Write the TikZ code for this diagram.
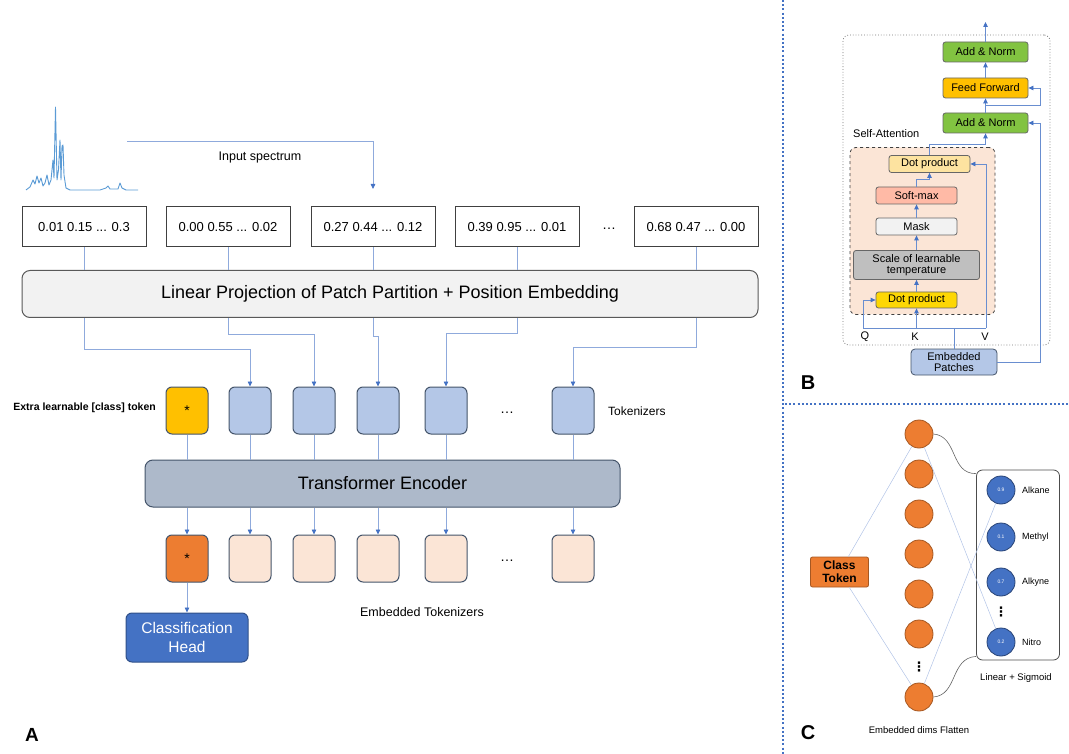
\documentclass[tikz,border=0pt]{standalone}
\usepackage{fontspec}
\setmainfont{Liberation Sans}
\newfontfamily\dotsfont{DejaVu Sans}
\usepackage{xcolor}
\usetikzlibrary{positioning, arrows.meta}

\definecolor{linkblue}{HTML}{8FAADC}
\definecolor{tipblue}{HTML}{4472C4}
\definecolor{tokblue}{HTML}{B4C7E7}
\definecolor{tokline}{HTML}{44546A}
\definecolor{clsyellow}{HTML}{FFC000}
\definecolor{clsorange}{HTML}{ED7D31}
\definecolor{embpeach}{HTML}{FBE5D6}
\definecolor{encgray}{HTML}{ADB9CA}
\definecolor{headblue}{HTML}{4472C4}
\definecolor{normgreen}{HTML}{82C341}
\definecolor{specblue}{HTML}{5B9BD5}

\newcommand{\fs}[1]{\fontsize{#1}{#1}\selectfont}

\begin{document}
\begin{tikzpicture}[
    x=1pt, y=-1pt,
    every node/.style={font=\fs{12}, inner sep=0pt},
    patch/.style={rectangle, draw=black!75, line width=1pt, minimum width=124pt, minimum height=40pt, fill=white, font=\fs{13}},
    token/.style={rectangle, draw=tokline, line width=1pt, rounded corners=6pt, minimum width=42pt, minimum height=47pt, fill=#1, font=\fs{14}},
    token/.default=tokblue,
    bar/.style={rectangle, draw=#1, line width=1pt, rounded corners=8pt, minimum height=47pt, font=\fs{18}},
    sub/.style={rectangle, draw=black!60, line width=0.8pt, rounded corners=2.5pt, minimum width=81pt, minimum height=17pt, fill=#1, font=\fs{11}, align=center},
    sub/.default=white,
    hid/.style={circle, draw=clsorange!70!black, line width=0.8pt, fill=clsorange, minimum size=28pt},
    outn/.style={circle, draw=tipblue!60!black, line width=0.8pt, fill=tipblue, minimum size=28pt, text=white, font=\fs{5}},
    lbl/.style={font=\fs{#1}},
    vdot/.style={font=\dotsfont\bfseries\fs{13}},
    link/.style={draw=linkblue, line width=0.8pt},
    arr/.style={link, -{Triangle[length=5pt, width=4.5pt, color=tipblue]}},
    barr/.style={arr, draw=tipblue!80},
    thinlink/.style={draw=linkblue!70, line width=0.5pt},
    curvelink/.style={draw=black!60, line width=0.6pt},
    divider/.style={draw=tipblue, line width=2pt, dash pattern=on 2pt off 2.2pt},
]
    \useasboundingbox (0,0) rectangle (1069,754);

    % ---------- panel A ----------
    % input spectrum
    \draw[specblue, line width=0.9pt, line join=round] plot coordinates {
        (26,190) (30,187) (33,180) (35,184) (37,176) (39,183) (41,178) (43,186)
        (45,183) (47,175) (49,185) (51,180) (53,160) (54,178) (55.5,107) (57,180)
        (58.5,170) (60,140) (61,180) (62,146) (63,145) (64,175) (66,188) (70,190)
        (100,190) (106,188) (108,186) (110,189) (118,189) (120,183) (122,188)
        (126,190) (138,190)};
    \coordinate (spec) at (127,141);
    \coordinate (inhit) at (373,189);
    \draw[arr] (spec) -| (inhit);
    \node[lbl=12.5] (inlbl) at (260,157) {Input spectrum};

    % patches
    \node[patch] (p1) at (84,227) {0.01 0.15 ... 0.3};
    \node[patch] (p2) at (228,227) {0.00 0.55 ... 0.02};
    \node[patch] (p3) at (373,227) {0.27 0.44 ... 0.12};
    \node[patch] (p4) at (517,227) {0.39 0.95 ... 0.01};
    \node[lbl=14] (pdots) at (609,229) {\dots};
    \node[patch] (p5) at (696,227) {0.68 0.47 ... 0.00};

    \node[bar=black!65, fill=black!5, minimum width=736pt] (proj) at (390,294) {Linear Projection of Patch Partition + Position Embedding};

    \foreach \p in {p1,p2,p3,p4,p5}
        \draw[link] (\p) -- (\p |- proj.north);

    % tokenizers
    \node[token=clsyellow] (tc) at (187,410.5) {*};
    \node[token] (t2) at (250,410.5) {};
    \node[token] (t3) at (314,410.5) {};
    \node[token] (t4) at (378,410.5) {};
    \node[token] (t5) at (446,410.5) {};
    \node[lbl=14] (tdots) at (507,413) {\dots};
    \node[token] (t6) at (573,410.5) {};
    \node[lbl=12, anchor=west] (toklbl) at (608,411) {Tokenizers};
    \node[font=\fs{10.5}\bfseries, anchor=east] (clslbl) at (156,408) {Extra learnable [class] token};

    \draw[arr] (p1 |- proj.south) -- ++(0,31) -| (t2.north);
    \draw[arr] (p2 |- proj.south) -- ++(0,16) -| (t3.north);
    \draw[arr] (p3 |- proj.south) -- ++(0,18) -| (t4.north);
    \draw[arr] (p4 |- proj.south) -- ++(0,15) -| (t5.north);
    \draw[arr] (p5 |- proj.south) -- ++(0,29) -| (t6.north);

    % encoder
    \node[bar=tokline, fill=encgray, minimum width=475pt] (enc) at (382.5,483.5) {Transformer Encoder};

    % embedded tokenizers
    \node[token=clsorange] (oc) at (187,558.5) {*};
    \node[token=embpeach] (o2) at (250,558.5) {};
    \node[token=embpeach] (o3) at (314,558.5) {};
    \node[token=embpeach] (o4) at (378,558.5) {};
    \node[token=embpeach] (o5) at (446,558.5) {};
    \node[lbl=14] (odots) at (507,561) {\dots};
    \node[token=embpeach] (o6) at (573,558.5) {};
    \node[lbl=12.5] (emblbl) at (422,612) {Embedded Tokenizers};

    \foreach \t/\o in {tc/oc,t2/o2,t3/o3,t4/o4,t5/o5,t6/o6} {
        \draw[link] (\t) -- (\t |- enc.north);
        \draw[arr] (\t |- enc.south) -- (\o);
    }

    \node[rectangle, draw=headblue!70!black, line width=1pt, rounded corners=6pt, fill=headblue, text=white,
        minimum width=122pt, minimum height=49pt, align=center, font=\fs{15.5}] (head) at (187,637.5) {Classification\\[3pt]Head};
    \draw[arr] (oc) -- (head);

    \node[font=\fs{19}\bfseries] (la) at (32,735) {A};

    % ---------- dividers ----------
    \draw[divider] (783,0) -- (783,754);
    \draw[divider] (785,404) -- (1069,404);
    \node[font=\fs{20}\bfseries] (lb) at (808,383) {B};
    \node[font=\fs{20}\bfseries] (lc) at (808,733) {C};

    % ---------- panel B ----------
    \node[rectangle, draw=black!55, dotted, line width=0.8pt, rounded corners=6pt, minimum width=207pt, minimum height=310pt] (block) at (946.5,190) {};
    \node[rectangle, draw=black!75, dashed, line width=0.8pt, rounded corners=6pt, fill=embpeach, minimum width=145pt, minimum height=167pt] (attn) at (922.5,231) {};
    \node[lbl=11, anchor=west] (attnlbl) at (853,134) {Self-Attention};

    \node[sub=normgreen, minimum width=85pt, minimum height=20pt] (addtop) at (985.5,52) {Add \& Norm};
    \node[sub=clsyellow, minimum width=85pt, minimum height=20pt] (ff) at (985.5,88) {Feed Forward};
    \node[sub=normgreen, minimum width=85pt, minimum height=20pt] (addmid) at (985.5,123) {Add \& Norm};

    \node[sub=yellow!45!orange!35] (dottop) at (929.5,164) {Dot product};
    \node[sub=orange!45!red!35!white] (soft) at (916.5,195.5) {Soft-max};
    \node[sub=black!5] (mask) at (916.5,226.5) {Mask};
    \node[sub=black!25, minimum width=126pt, minimum height=29pt] (scale) at (916.5,265) {Scale of learnable\\temperature};
    \node[sub=yellow!75!orange, minimum height=16pt] (dotbot) at (916.5,300) {Dot product};

    \node[sub=tokblue, draw=tokline, minimum width=86pt, minimum height=26pt, rounded corners=4pt] (patches) at (954,362) {Embedded\\Patches};

    \node[lbl=11] (ql) at (865,337) {Q};
    \node[lbl=11] (kl) at (915,337) {K};
    \node[lbl=11] (vl) at (985,337) {V};

    \coordinate (bout) at (985.5,22);
    \coordinate (qpt) at (863,328);
    \coordinate (vpt) at (986,328);

    \draw[barr] (addtop) -- (bout);
    \draw[barr] (ff) -- (addtop);
    \draw[barr] (addmid) -- (ff);
    \draw[barr] ([yshift=7pt]addmid.north) -- ++(54.5,0) |- (ff.east);
    \draw[barr] (patches.east) -- ++(43,0) |- (addmid.east);
    \draw[barr] (dottop.north) -- ++(0,-11) -| (addmid.south);
    \draw[barr] (soft.north) -- ++(0,-7) -| (dottop.south);
    \draw[barr] (mask) -- (soft);
    \draw[barr] (scale) -- (mask);
    \draw[barr] (dotbot) -- (scale);

    \draw[link, draw=tipblue!80] (qpt) -- (vpt);
    \draw[link, draw=tipblue!80] (patches.north) -- (patches.north |- qpt);
    \draw[barr] (qpt) |- (dotbot.west);
    \draw[barr] (dotbot.south |- qpt) -- (dotbot.south);
    \draw[barr] (vpt) |- (dottop.east);

    % ---------- panel C ----------
    \node[rectangle, draw=black!70, line width=0.8pt, rounded corners=6pt, minimum width=83pt, minimum height=190pt] (outbox) at (1018,565) {};

    \foreach \i/\y in {1/434,2/474,3/514,4/554,5/594,6/634,7/697}
        \node[hid] (h\i) at (919,\y) {};
    \node[vdot] (hdots) at (919,667) {⋮};

    \node[rectangle, draw=clsorange!70!black, line width=0.8pt, rounded corners=2pt, fill=clsorange,
        minimum width=58pt, minimum height=30pt, align=center, font=\fs{12}\bfseries] (cls) at (839.5,572) {Class\\[1pt]Token};

    \node[outn] (y1) at (1001,490) {0.9};
    \node[outn] (y2) at (1001,537) {0.1};
    \node[outn] (y3) at (1001,582) {0.7};
    \node[vdot] (ydots) at (1001,612) {⋮};
    \node[outn] (y4) at (1001,642) {0.2};

    \node[lbl=9, anchor=west] (n1) at (1022,490) {Alkane};
    \node[lbl=9, anchor=west] (n2) at (1022,537) {Methyl};
    \node[lbl=9, anchor=west] (n3) at (1022,582) {Alkyne};
    \node[lbl=9, anchor=west] (n4) at (1022,642) {Nitro};

    \draw[thinlink] (cls) -- (h1);
    \draw[thinlink] (cls) -- (h7);
    \draw[thinlink] (h1) -- (y4);
    \draw[thinlink] (h7) -- (y1);
    \draw[curvelink] (h1.east) .. controls (958,436) and (950,474) .. ([yshift=-4pt]outbox.north west);
    \draw[curvelink] (h7.east) .. controls (958,695) and (950,658) .. ([yshift=4pt]outbox.south west);

    \node[lbl=9.5] (siglbl) at (1016,678) {Linear + Sigmoid};
    \node[lbl=9.5] (flatlbl) at (919,730) {Embedded dims Flatten};
\end{tikzpicture}
\end{document}
